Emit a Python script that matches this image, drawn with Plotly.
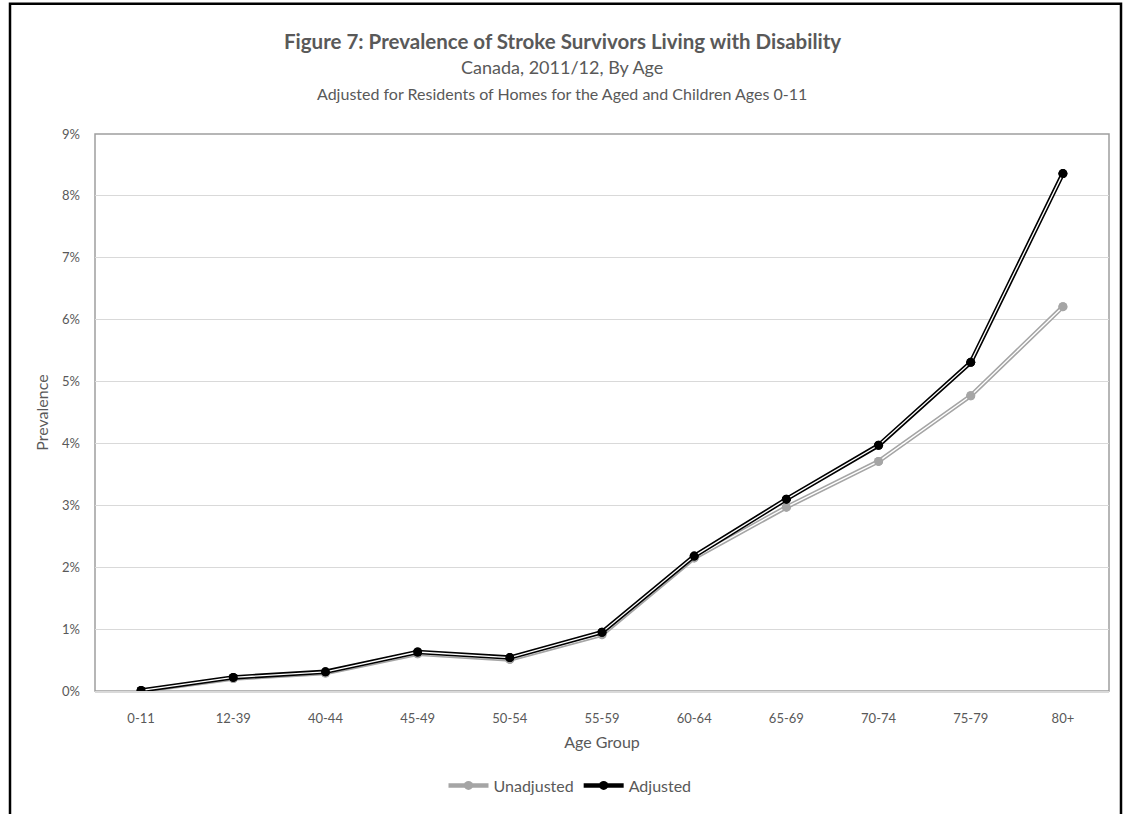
import plotly.graph_objects as go

age_groups = ["0-11", "12-39", "40-44", "45-49", "50-54", "55-59", "60-64", "65-69", "70-74", "75-79", "80+"]
unadjusted = [0.0000, 0.0020, 0.0029, 0.0060, 0.0051, 0.0091, 0.0215, 0.0297, 0.0371, 0.0477, 0.0621]
adjusted = [0.0001, 0.0022, 0.0031, 0.0063, 0.0054, 0.0095, 0.0218, 0.0310, 0.0397, 0.0531, 0.0836]

FONT = "Lato"
TXT = "#595959"
W, H = 1124, 814
L, R, T, B = 95, 15, 134, 120
pw, ph = W - L - R, H - T - B

def px_x(p):
    return (p - L) / pw

def px_y(p):
    return (H - B - p) / ph

fig = go.Figure()

series = [("Unadjusted", unadjusted, "#a5a5a5"), ("Adjusted", adjusted, "#000000")]
for name, vals, col in series:
    fig.add_trace(go.Scatter(
        x=age_groups, y=vals, name=name, mode="lines+markers",
        line=dict(color=col, width=4.5),
        marker=dict(color=col, size=9, symbol="circle"),
        showlegend=True, legendgroup=name))
    fig.add_trace(go.Scatter(
        x=age_groups, y=vals, mode="lines",
        line=dict(color="#ffffff", width=1.3),
        showlegend=False, legendgroup=name, hoverinfo="skip"))
    fig.add_trace(go.Scatter(
        x=age_groups, y=vals, mode="markers",
        marker=dict(color=col, size=9, symbol="circle"),
        showlegend=False, legendgroup=name, hoverinfo="skip"))

fig.update_layout(
    width=W, height=H,
    margin=dict(l=L, r=R, t=T, b=B),
    paper_bgcolor="#ffffff", plot_bgcolor="#ffffff",
    font=dict(family=FONT, color=TXT, size=13),
    showlegend=True,
    legend=dict(orientation="h", x=px_x(570), xanchor="center", y=px_y(789), yanchor="middle",
                font=dict(size=16, color=TXT), itemwidth=40, traceorder="normal",
                bgcolor="rgba(0,0,0,0)"),
    xaxis=dict(
        type="category", range=[-0.5, len(age_groups) - 0.5],
        showgrid=False, showline=True, linecolor="#d9d9d9", linewidth=2,
        ticks="", tickfont=dict(size=13, color=TXT), ticklabelstandoff=14,
        title=dict(text="Age Group", font=dict(size=16, color=TXT), standoff=12),
        zeroline=False, fixedrange=True),
    yaxis=dict(
        range=[0, 0.09], dtick=0.01, tickformat=".0%",
        showgrid=True, gridcolor="#d9d9d9", gridwidth=1,
        showline=False, ticks="", tickfont=dict(size=13, color=TXT), ticklabelstandoff=14,
        title=dict(text="Prevalence", font=dict(size=16, color=TXT), standoff=9),
        zeroline=False, fixedrange=True),
)

# plot area border
fig.add_shape(type="rect", xref="paper", yref="paper", x0=0, x1=1, y0=0, y1=1,
              line=dict(color="#9e9e9e", width=1.5), layer="between")
# outer chart frame
fig.add_shape(type="path", xref="paper", yref="paper",
              path=f"M {px_x(10)},{px_y(830)} L {px_x(10)},{px_y(3)} L {px_x(1121)},{px_y(3)} L {px_x(1121)},{px_y(830)}",
              line=dict(color="#000000", width=2.5))

fig.add_annotation(text="<b>Figure 7: Prevalence of Stroke Survivors Living with Disability</b>",
                   xref="paper", yref="paper", x=px_x(562), y=px_y(40), xanchor="center", yanchor="middle",
                   showarrow=False, font=dict(size=20.5, color=TXT, family=FONT))
fig.add_annotation(text="Canada, 2011/12, By Age",
                   xref="paper", yref="paper", x=px_x(562), y=px_y(67), xanchor="center", yanchor="middle",
                   showarrow=False, font=dict(size=18, color=TXT, family=FONT))
fig.add_annotation(text="Adjusted for Residents of Homes for the Aged and Children Ages 0-11",
                   xref="paper", yref="paper", x=px_x(562), y=px_y(93), xanchor="center", yanchor="middle",
                   showarrow=False, font=dict(size=16, color=TXT, family=FONT))

fig.write_html("out.html", config={"displayModeBar": False},
               post_script="document.body.style.margin='0px';document.body.style.overflow='hidden';")
